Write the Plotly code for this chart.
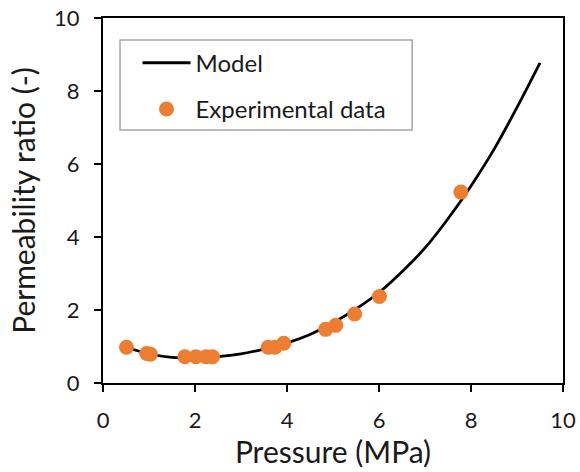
import plotly.graph_objects as go

# Model curve
model_x = [0.5, 1.0, 1.5, 2.0, 2.5, 3.0, 3.5, 4.0, 4.5, 5.0, 5.5, 6.0, 6.5, 7.0, 7.5, 8.0, 8.5, 9.0, 9.5]
model_y = [0.98, 0.80, 0.70, 0.68, 0.72, 0.80, 0.93, 1.10, 1.33, 1.65, 2.03, 2.48, 3.05, 3.70, 4.50, 5.40, 6.40, 7.55, 8.77]

# Experimental data
exp_x = [0.51, 0.95, 1.03, 1.78, 2.02, 2.24, 2.38, 3.59, 3.74, 3.93, 4.84, 5.06, 5.47, 6.01, 7.78]
exp_y = [0.98, 0.81, 0.79, 0.72, 0.72, 0.72, 0.72, 0.98, 0.98, 1.09, 1.47, 1.58, 1.89, 2.37, 5.23]

x_ticks = [0, 2, 4, 6, 8, 10]
y_ticks = [0, 2, 4, 6, 8, 10]

FONT = "Lato"
TXT = "#1a1a1a"

fig = go.Figure()
fig.add_trace(go.Scatter(x=model_x, y=model_y, mode="lines", name="Model",
                         line=dict(color="black", width=2.8, shape="spline"),
                         legendgroup="a"))
fig.add_trace(go.Scatter(x=exp_x, y=exp_y, mode="markers", name="Experimental data",
                         marker=dict(color="#ED7D31", size=15),
                         legendgroup="b"))

axis_common = dict(showline=True, linecolor="black", linewidth=2, mirror=True,
                   ticks="outside", ticklen=7, tickwidth=2, tickcolor="black",
                   showgrid=False, zeroline=False, automargin=False,
                   tickfont=dict(family=FONT, size=22, color=TXT))

fig.update_xaxes(range=[0, 10], tickvals=x_ticks, ticklabelstandoff=10,
                 title=dict(text="Pressure (MPa)", font=dict(family=FONT, size=30, color=TXT), standoff=6),
                 **axis_common)
fig.update_yaxes(range=[0, 10], tickvals=y_ticks, ticklabelstandoff=10,
                 title=dict(text="Permeability ratio (-)", font=dict(family=FONT, size=30, color=TXT), standoff=10),
                 **axis_common)

fig.add_shape(type="rect", xref="paper", yref="paper",
              x0=0.037, x1=0.672, y0=0.693, y1=0.940,
              line=dict(color="#A6A6A6", width=1.5), fillcolor="rgba(0,0,0,0)")

fig.update_layout(
    width=580, height=472,
    margin=dict(l=103, r=17, t=18, b=89),
    plot_bgcolor="white", paper_bgcolor="white",
    font=dict(family=FONT, color=TXT),
    legend=dict(x=0.075, y=0.938, xanchor="left", yanchor="top",
                bgcolor="rgba(0,0,0,0)", borderwidth=0,
                itemwidth=48,
                font=dict(family=FONT, size=24, color=TXT),
                traceorder="grouped", tracegroupgap=12),
)

fig.write_html("out.html")
